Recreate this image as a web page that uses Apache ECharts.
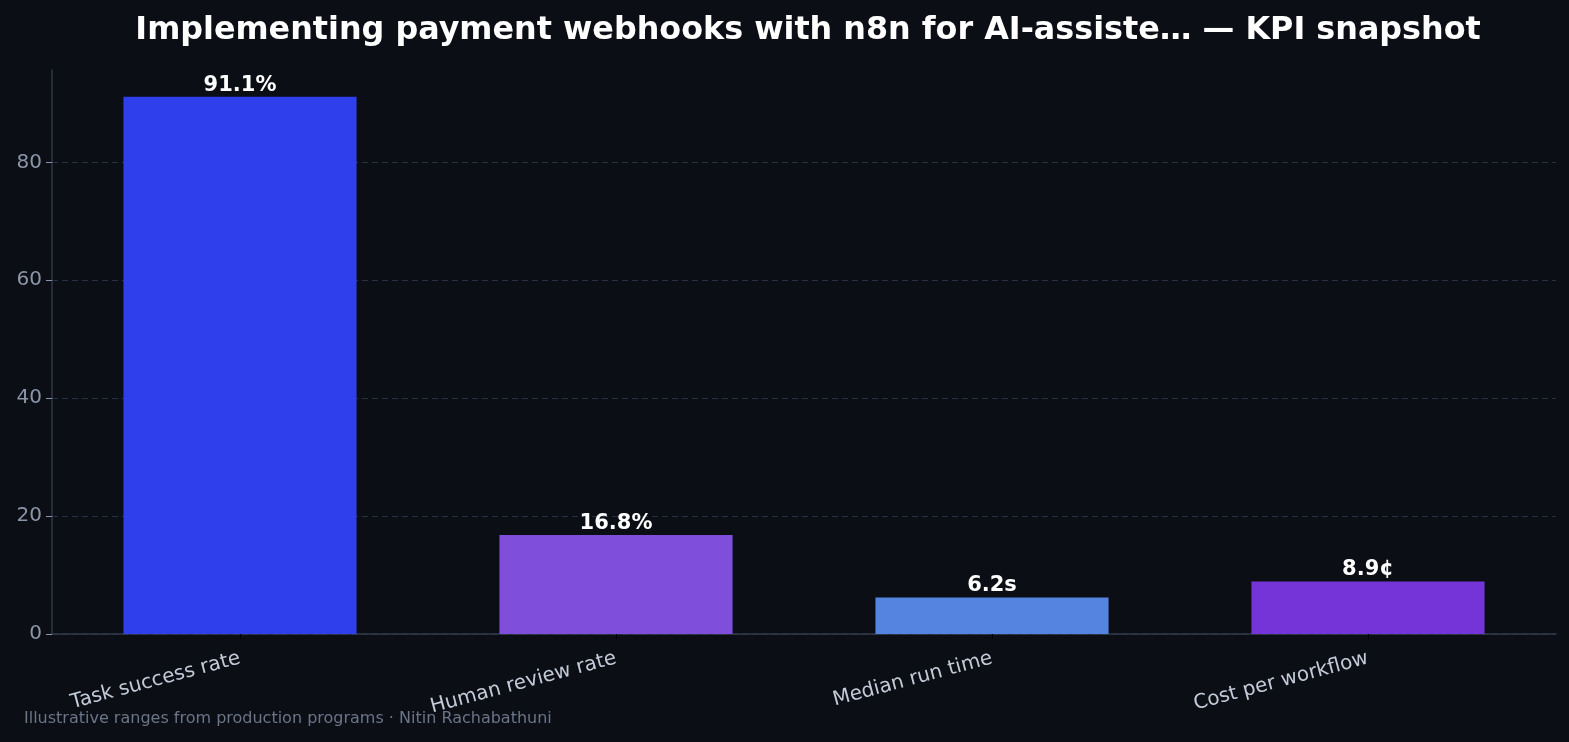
<html><head><meta charset="utf-8"><script src="https://cdn.jsdelivr.net/npm/echarts@6/dist/echarts.min.js"></script>
<style>
html, body { height: 100%; margin: 0; padding: 0; background: #0b0e14; }
</style></head><body><div id="main" style="width: 1569px;height:742px;"></div><script type="text/javascript">
var categories = ['Task success rate', 'Human review rate', 'Median run time', 'Cost per workflow'];
var values = [91.1, 16.8, 6.2, 8.9];
var suffixes = ['%', '%', 's', '¢'];
var barColors = ['#2f3fec', '#7f4fdc', '#5584e0', '#7434d8'];
var yTicks = [0, 20, 40, 60, 80];

var myChart = echarts.init(document.getElementById('main'));
var font = 'DejaVu Sans';
var option = {
    backgroundColor: '#0b0e14',
    animation: false,
    title: {
        text: 'Implementing payment webhooks with n8n for AI-assiste\u2026 \u2014 KPI snapshot',
        left: 803,
        textAlign: 'center',
        top: 10,
        textStyle: { color: '#ffffff', fontSize: 31.8, fontWeight: 'bold', fontFamily: font }
    },
    graphic: [{
        type: 'text',
        left: 24,
        top: 711,
        style: {
            text: 'Illustrative ranges from production programs \u00b7 Nitin Rachabathuni',
            fill: '#6b7588',
            font: '16px "DejaVu Sans"'
        }
    }],
    grid: { left: 52, right: 13, top: 70, bottom: 108 },
    xAxis: {
        type: 'category',
        data: categories,
        axisLine: { lineStyle: { color: '#323b4b', width: 1.5 } },
        axisTick: { show: true, alignWithLabel: true, length: 5, lineStyle: { color: '#000000' } },
        axisLabel: { rotate: 15, color: '#c3cad8', fontSize: 20, fontFamily: font, margin: 24 }
    },
    yAxis: {
        type: 'value',
        min: 0,
        max: 95.655,
        interval: 20,
        axisLine: { show: true, lineStyle: { color: '#2f3644', width: 1.5 } },
        axisTick: { show: true, length: 6, customValues: yTicks, lineStyle: { color: '#8b95a8' } },
        axisLabel: {
            color: '#8b95a8', fontSize: 20, fontFamily: font, margin: 10,
            customValues: yTicks
        },
        splitLine: { show: true, lineStyle: { color: '#283044', type: [6, 4], width: 1 } }
    },
    series: [{
        type: 'bar',
        barWidth: '62%',
        data: values.map(function (v, i) {
            return { value: v, itemStyle: { color: barColors[i] } };
        }),
        label: {
            show: true,
            position: 'top',
            distance: 1,
            color: '#ffffff',
            fontSize: 21,
            fontWeight: 'bold',
            fontFamily: font,
            formatter: function (p) { return p.value + suffixes[p.dataIndex]; }
        }
    }]
};
myChart.setOption(option);
</script></body></html>
